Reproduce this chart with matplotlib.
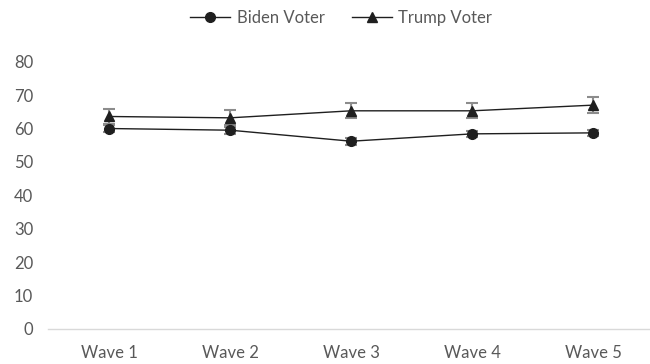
import matplotlib.pyplot as plt
import numpy as np

plt.rcParams["font.family"] = ["Lato", "DejaVu Sans"]

waves = ["Wave 1", "Wave 2", "Wave 3", "Wave 4", "Wave 5"]
biden = [60.0, 59.5, 56.2, 58.4, 58.7]
biden_err = [1.0, 1.0, 1.0, 1.0, 1.0]
trump = [63.6, 63.2, 65.3, 65.3, 67.0]
trump_err = [2.2, 2.2, 2.3, 2.3, 2.3]

TEXT = "#595959"
LINE = "#1f1f1f"
ERR = "#8c8c8c"

fig = plt.figure(figsize=(6.5, 3.64), dpi=100)
ax = fig.add_axes([0.0746, 0.0962, 0.931, 0.7343])
x = np.arange(1, len(waves) + 1)

for vals, errs, marker, size, label in [
    (biden, biden_err, "o", 7, "Biden Voter"),
    (trump, trump_err, "^", 7.5, "Trump Voter"),
]:
    ax.errorbar(x, vals, yerr=errs, fmt="none", ecolor=ERR, elinewidth=1.5,
                capsize=4, capthick=1.5, zorder=2)
    ax.plot(x, vals, "-", color=LINE, linewidth=1.0, marker=marker,
            markersize=size, markerfacecolor=LINE, markeredgecolor=LINE,
            label=label, zorder=3)

ax.set_xlim(0.5, 5.5)
ax.set_ylim(0, 80)
ax.set_yticks(np.arange(0, 81, 10))
ax.set_xticks(x)
ax.set_xticklabels(waves)
ax.tick_params(axis="x", length=0, pad=11.5, labelsize=12, labelcolor=TEXT)
ax.tick_params(axis="y", length=0, pad=11, labelsize=12, labelcolor=TEXT)
for side in ["left", "right", "top"]:
    ax.spines[side].set_visible(False)
ax.spines["bottom"].set_color("#d9d9d9")
ax.spines["bottom"].set_linewidth(1.0)

leg = fig.legend(loc="center", bbox_to_anchor=(0.525, 0.95), ncol=2,
                 frameon=False, fontsize=12, handlelength=2.4,
                 handletextpad=0.4, columnspacing=1.6)
for t in leg.get_texts():
    t.set_color(TEXT)

fig.savefig("out.png", dpi=100)
